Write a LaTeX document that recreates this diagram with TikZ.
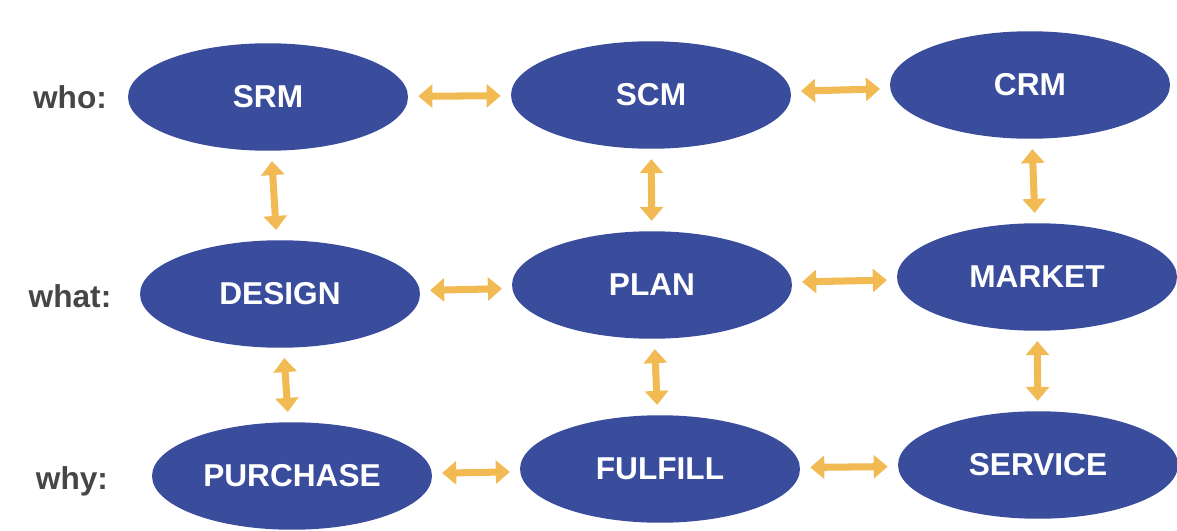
\documentclass[tikz,border=0pt]{standalone}
\usepackage{fontspec}
\setmainfont{Liberation Sans}
\usetikzlibrary{arrows.meta,shapes.geometric}
\definecolor{ovalblue}{RGB}{58,76,156}
\definecolor{arrowgold}{RGB}{241,186,82}
\definecolor{labelgray}{RGB}{70,70,70}

\begin{document}
\begin{tikzpicture}[x=0.02cm,y=-0.02cm,>=Triangle,
		oval/.style={ellipse,fill=ovalblue,text=white,minimum width=5.6cm,minimum height=2.15cm,
			inner sep=0pt,font=\fontsize{18}{20}\selectfont\bfseries},
		rowlabel/.style={text=labelgray,font=\fontsize{18}{20}\selectfont\bfseries},
		link/.style={<->,arrowgold,line width=4pt,shorten <=0.2cm,shorten >=0.2cm,
			arrows={Triangle[length=8pt,width=13pt]-Triangle[length=8pt,width=13pt]}}]
		
		% frame
		\useasboundingbox (0,0) rectangle (1177,531);
		
		% row labels
		\node[rowlabel] (who)  at (70,97)  {who:};
		\node[rowlabel] (what) at (70,296) {what:};
		\node[rowlabel] (why)  at (72,481) {why:};
		
		% top row
		\node[oval] (srm) at (268,97) {SRM};
		\node[oval] (scm) at (651,95) {SCM};
		\node[oval] (crm) at (1030,85) {CRM};
		
		% middle row
		\node[oval] (design) at (280,294) {DESIGN};
		\node[oval] (plan)   at (652,285) {PLAN};
		\node[oval] (market) at (1037,277) {MARKET};
		
		% bottom row
		\node[oval] (purchase) at (292,476) {PURCHASE};
		\node[oval] (fulfill)  at (660,469) {FULFILL};
		\node[oval] (service)  at (1038,465) {SERVICE};
		
		% horizontal links
		\draw[link] (srm) -- (scm);
		\draw[link] (scm) -- (crm);
		\draw[link] (design) -- (plan);
		\draw[link] (plan) -- (market);
		\draw[link] (purchase) -- (fulfill);
		\draw[link] (fulfill) -- (service);
		
		% vertical links
		\draw[link] (srm) -- (design);
		\draw[link] (design) -- (purchase);
		\draw[link] (scm) -- (plan);
		\draw[link] (plan) -- (fulfill);
		\draw[link] (crm) -- (market);
		\draw[link] (market) -- (service);
		
	\end{tikzpicture}
\end{document}
